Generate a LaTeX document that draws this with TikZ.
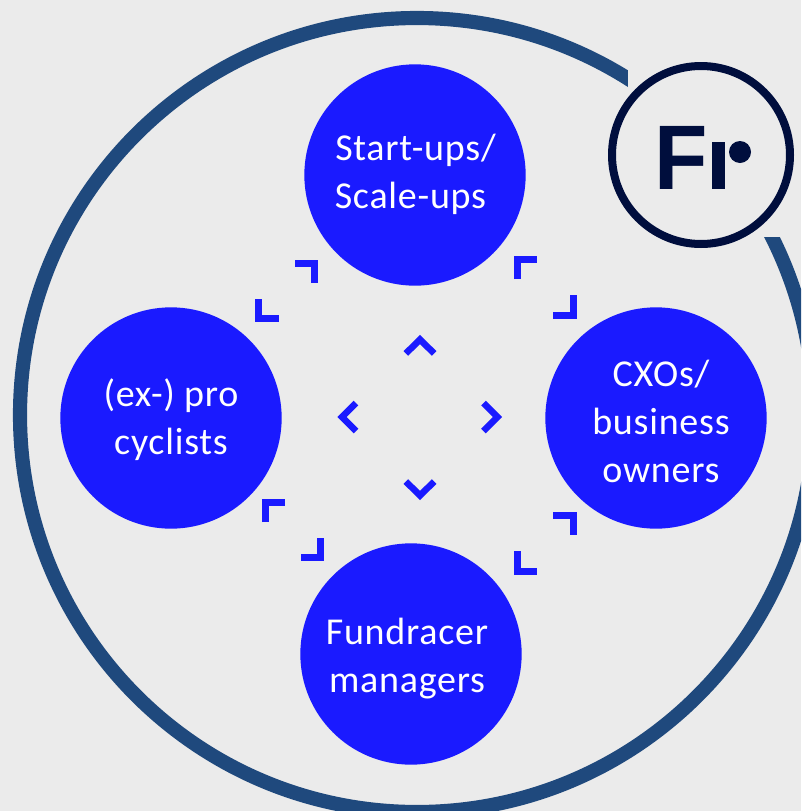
\documentclass[tikz,border=0pt]{standalone}
\usepackage{fontspec}
\setmainfont[LetterSpace=2]{Carlito}
\newfontfamily\logofont{Liberation Sans}
\definecolor{pagegrey}{HTML}{EBEBEB}
\definecolor{ringblue}{HTML}{1F497D}
\definecolor{discblue}{HTML}{1A1AFF}
\definecolor{logonavy}{HTML}{000E3D}
\tikzset{
  disc/.style={circle, fill=discblue, inner sep=0pt, minimum size=166pt},
  disctext/.style={align=center, text=white, font=\fontsize{28.5}{36}\selectfont},
  bracketmark/.style={line width=5.2pt, discblue},
  chevron/.style={line width=4.9pt, discblue}
}
\begin{document}
\begin{tikzpicture}[x=0.75pt,y=-0.75pt]
    \useasboundingbox (0,0) rectangle (801,811);
    \clip (0,0) rectangle (801,811);
    \fill[pagegrey] (0,0) rectangle (801,811);

    % outer ring, gap behind the logo
    \draw[line width=10.6pt, ringblue] (417,415) circle (397);
    \fill[pagegrey] (628,0) rectangle (801,237);

    % logo
    \draw[line width=6pt, logonavy] (701,155) circle (89);
    \node[inner sep=0pt, anchor=base west, text=logonavy, font=\logofont\bfseries\fontsize{65.5}{65.5}\selectfont] (logoF) at (654.5,189) {\scalebox{1}[1.05]{F}};
    \fill[logonavy] (712,142) rectangle (725,189);
    \fill[logonavy] (740,152) circle (11);

    % four groups
    \node[disc] (startups) at (415,175) {};
    \node[disc] (cyclists) at (171,418) {};
    \node[disc] (owners) at (656,418) {};
    \node[disc] (managers) at (411,654) {};

    \node[disctext] (startupstext) at (415.5,174.5) {Start-ups/\\Scale-ups\hspace*{7.5pt}};
    \node[disctext] (cycliststext) at (171,420) {(ex-) pro\\cyclists};
    \node[disctext] (ownerstext) at (661,421.5) {CXOs/\\business\\owners};
    \node[disctext] (managerstext) at (407,659) {Fundracer\\managers};

    % corner marks, clockwise from top left
    \draw[bracketmark] (295,263.5) -- ++(19.5,0) -- ++(0,19.5);
    \draw[bracketmark] (258.5,299) -- ++(0,19.5) -- ++(20.5,0);
    \draw[bracketmark] (517.5,279) -- ++(0,-19.5) -- ++(19.5,0);
    \draw[bracketmark] (553,315.5) -- ++(20.5,0) -- ++(0,-20.5);
    \draw[bracketmark] (553,515.5) -- ++(20.5,0) -- ++(0,19.5);
    \draw[bracketmark] (517.5,551) -- ++(0,20.5) -- ++(19.5,0);
    \draw[bracketmark] (301,557.5) -- ++(19.5,0) -- ++(0,-19.5);
    \draw[bracketmark] (265.5,522) -- ++(0,-19.5) -- ++(19.5,0);

    % chevrons
    \draw[chevron] (405.8,353.5) -- (420,339.5) -- (434.2,353.5);
    \draw[chevron] (405.8,481.5) -- (420,495.5) -- (434.2,481.5);
    \draw[chevron] (356,403) -- (342,417) -- (356,431);
    \draw[chevron] (483.5,403) -- (497.5,417) -- (483.5,431);
\end{tikzpicture}
\end{document}
